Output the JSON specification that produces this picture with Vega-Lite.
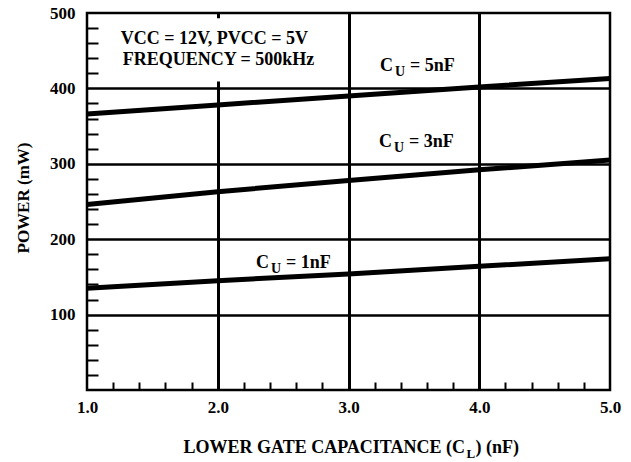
{
  "$schema": "https://vega.github.io/schema/vega-lite/v6.json",
  "width": 523,
  "height": 377,
  "autosize": {"type": "none"},
  "padding": {"left": 87, "top": 13, "right": 21, "bottom": 72},
  "background": "white",
  "config": {
    "view": {"stroke": "black", "strokeWidth": 2.5},
    "text": {"font": "Liberation Serif", "fontWeight": "bold", "color": "black"},
    "axisX": {
      "domain": false,
      "grid": true,
      "gridColor": "black",
      "gridWidth": 3,
      "tickColor": "black",
      "tickWidth": 2,
      "tickSize": -8,
      "tickCount": 60,
      "labelFont": "Liberation Serif",
      "labelFontWeight": "bold",
      "labelFontSize": 17,
      "labelColor": "black",
      "labelPadding": 17,
      "labelFlush": false,
      "labelOverlap": false
    },
    "axisY": {
      "domain": false,
      "grid": true,
      "gridColor": "black",
      "gridWidth": 2.5,
      "tickColor": "black",
      "tickWidth": 2,
      "tickSize": -11,
      "tickCount": 60,
      "labelFont": "Liberation Serif",
      "labelFontWeight": "bold",
      "labelFontSize": 17,
      "labelColor": "black",
      "labelPadding": 23,
      "labelFlush": false,
      "labelOverlap": false,
      "titleFont": "Liberation Serif",
      "titleFontWeight": "bold",
      "titleFontSize": 17,
      "titleColor": "black",
      "titleAngle": 270,
      "titleAlign": "center",
      "titleBaseline": "middle",
      "titleX": -64,
      "titleY": 184.5
    }
  },
  "datasets": {
    "curves": [
      {"series": "5nF", "cl": 1, "power": 366},
      {"series": "5nF", "cl": 2, "power": 378},
      {"series": "5nF", "cl": 3, "power": 390},
      {"series": "5nF", "cl": 4, "power": 402},
      {"series": "5nF", "cl": 5, "power": 413},
      {"series": "3nF", "cl": 1, "power": 246},
      {"series": "3nF", "cl": 2, "power": 263},
      {"series": "3nF", "cl": 3, "power": 278},
      {"series": "3nF", "cl": 4, "power": 292},
      {"series": "3nF", "cl": 5, "power": 305},
      {"series": "1nF", "cl": 1, "power": 135},
      {"series": "1nF", "cl": 2, "power": 145},
      {"series": "1nF", "cl": 3, "power": 154},
      {"series": "1nF", "cl": 4, "power": 164},
      {"series": "1nF", "cl": 5, "power": 174}
    ],
    "box": [{"x1": 1.2, "x2": 2.85, "y1": 409, "y2": 493}],
    "info": [
      {"text": "VCC = 12V, PVCC = 5V", "x": 1.258, "y": 459},
      {"text": "FREQUENCY = 500kHz", "x": 1.273, "y": 431}
    ],
    "labels": [
      {"label": "= 5nF", "x": 3.241, "y": 423.5},
      {"label": "= 3nF", "x": 3.233, "y": 322.7},
      {"label": "= 1nF", "x": 2.293, "y": 161.4}
    ],
    "xtitle": [{"x": 3.891, "y": -83}]
  },
  "layer": [
    {
      "data": {"name": "box"},
      "mark": {"type": "rect", "fill": "white", "stroke": null},
      "encoding": {
        "x": {
          "field": "x1", "type": "quantitative", "title": null,
          "scale": {"domain": [1, 5], "nice": false, "zero": false},
          "axis": {
            "values": [1, 1.2, 1.4, 1.6, 1.8, 2, 2.2, 2.4, 2.6, 2.8, 3, 3.2, 3.4, 3.6, 3.8, 4, 4.2, 4.4, 4.6, 4.8, 5],
            "tickCount": 60,
            "gridOpacity": {"condition": {"test": "datum.value === 2 || datum.value === 3 || datum.value === 4", "value": 1}, "value": 0},
            "tickOpacity": {"condition": {"test": "abs(datum.value - round(datum.value)) < 0.01", "value": 0}, "value": 1},
            "labelExpr": "abs(datum.value - round(datum.value)) < 0.01 ? format(datum.value, '.1f') : ''"
          }
        },
        "x2": {"field": "x2"},
        "y": {
          "field": "y1", "type": "quantitative", "title": "POWER (mW)",
          "scale": {"domain": [0, 500], "nice": false, "zero": false},
          "axis": {
            "values": [20, 40, 60, 80, 100, 120, 140, 160, 180, 200, 220, 240, 260, 280, 300, 320, 340, 360, 380, 400, 420, 440, 460, 480, 500],
            "tickCount": 60,
            "gridOpacity": {"condition": {"test": "datum.value % 100 === 0 && datum.value < 500", "value": 1}, "value": 0},
            "tickOpacity": {"condition": {"test": "datum.value % 100 === 0", "value": 0}, "value": 1},
            "labelExpr": "datum.value % 100 === 0 ? format(datum.value, 'd') : ''"
          }
        },
        "y2": {"field": "y2"}
      }
    },
    {
      "data": {"name": "curves"},
      "mark": {"type": "line", "color": "black", "strokeWidth": 5, "strokeCap": "butt"},
      "encoding": {
        "x": {"field": "cl", "type": "quantitative", "title": null},
        "y": {"field": "power", "type": "quantitative", "title": "POWER (mW)"},
        "detail": {"field": "series"}
      }
    },
    {
      "data": {"name": "info"},
      "mark": {"type": "text", "align": "left", "baseline": "alphabetic", "fontSize": 18},
      "encoding": {
        "x": {"field": "x", "type": "quantitative", "title": null},
        "y": {"field": "y", "type": "quantitative", "title": "POWER (mW)"},
        "text": {"field": "text"}
      }
    },
    {
      "data": {"name": "labels"},
      "mark": {"type": "text", "align": "left", "baseline": "alphabetic", "fontSize": 18, "text": "C"},
      "encoding": {
        "x": {"field": "x", "type": "quantitative", "title": null},
        "y": {"field": "y", "type": "quantitative", "title": "POWER (mW)"}
      }
    },
    {
      "data": {"name": "labels"},
      "mark": {"type": "text", "align": "left", "baseline": "alphabetic", "fontSize": 14, "text": "U", "dx": 15, "dy": 5},
      "encoding": {
        "x": {"field": "x", "type": "quantitative", "title": null},
        "y": {"field": "y", "type": "quantitative", "title": "POWER (mW)"}
      }
    },
    {
      "data": {"name": "labels"},
      "mark": {"type": "text", "align": "left", "baseline": "alphabetic", "fontSize": 18, "dx": 30},
      "encoding": {
        "x": {"field": "x", "type": "quantitative", "title": null},
        "y": {"field": "y", "type": "quantitative", "title": "POWER (mW)"},
        "text": {"field": "label"}
      }
    },
    {
      "data": {"name": "xtitle"},
      "mark": {"type": "text", "align": "right", "baseline": "alphabetic", "fontSize": 18, "text": "LOWER GATE CAPACITANCE (C"},
      "encoding": {
        "x": {"field": "x", "type": "quantitative", "title": null},
        "y": {"field": "y", "type": "quantitative", "title": "POWER (mW)"}
      }
    },
    {
      "data": {"name": "xtitle"},
      "mark": {"type": "text", "align": "left", "baseline": "alphabetic", "fontSize": 13, "text": "L", "dx": 1.5, "dy": 5},
      "encoding": {
        "x": {"field": "x", "type": "quantitative", "title": null},
        "y": {"field": "y", "type": "quantitative", "title": "POWER (mW)"}
      }
    },
    {
      "data": {"name": "xtitle"},
      "mark": {"type": "text", "align": "left", "baseline": "alphabetic", "fontSize": 18, "text": ") (nF)", "dx": 10.5},
      "encoding": {
        "x": {"field": "x", "type": "quantitative", "title": null},
        "y": {"field": "y", "type": "quantitative", "title": "POWER (mW)"}
      }
    }
  ]
}
